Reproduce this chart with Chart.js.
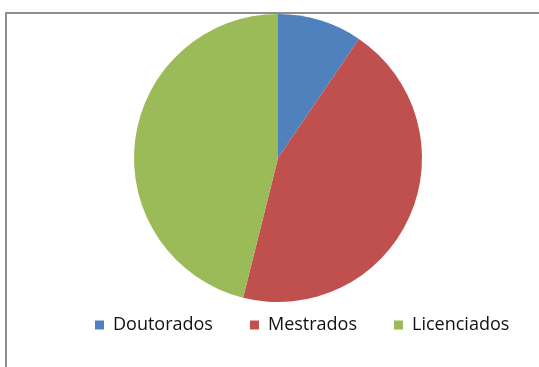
<!DOCTYPE html>
<html>
<head>
<meta charset="utf-8">
<script src="https://cdn.jsdelivr.net/npm/chart.js@4/dist/chart.umd.min.js"></script>
<style>
  html, body { margin: 0; padding: 0; background: #fff; overflow: hidden; }
  #frame { position: absolute; left: 5px; top: 12px; width: 600px; height: 400px;
           border-left: 2px solid #8e8e8e; border-top: 2px solid #8e8e8e; }
  #wrap { position: absolute; left: 0; top: 0; width: 539px; height: 367px; }
</style>
</head>
<body>
<div id="frame"></div>
<div id="wrap"><canvas id="chartPie"></canvas></div>
<script>
// Categories and values (percent)
var labels = ['Doutorados', 'Mestrados', 'Licenciados'];
var values = [9.5, 44.4, 46.1];
var colors = ['#4F81BD', '#C0504D', '#9BBB59'];

// Shift the legend to the right, where the original had it
var legendShift = {
    id: 'legendShift',
    afterLayout: function(chart) {
        chart.legend.left += 41;
        chart.legend.right += 41;
    }
};

var ctx = document.querySelector('#chartPie').getContext('2d');
var chart = new Chart(ctx, {
    type: 'pie',
    data: {
        labels: labels,
        datasets: [{
            backgroundColor: colors,
            borderWidth: 0,
            data: values
        }]
    },
    options: {
        responsive: true,
        maintainAspectRatio: false,
        animation: false,
        radius: 144,
        layout: { padding: { left: 17, right: 0, top: 37, bottom: 23 } },
        plugins: {
            tooltip: { enabled: false },
            legend: {
                position: 'bottom',
                align: 'start',
                labels: {
                    boxWidth: 9,
                    boxHeight: 9,
                    padding: 37,
                    color: '#111',
                    font: { family: "'Open Sans'", size: 18 }
                }
            }
        }
    },
    plugins: [legendShift]
});
</script>
</body>
</html>
